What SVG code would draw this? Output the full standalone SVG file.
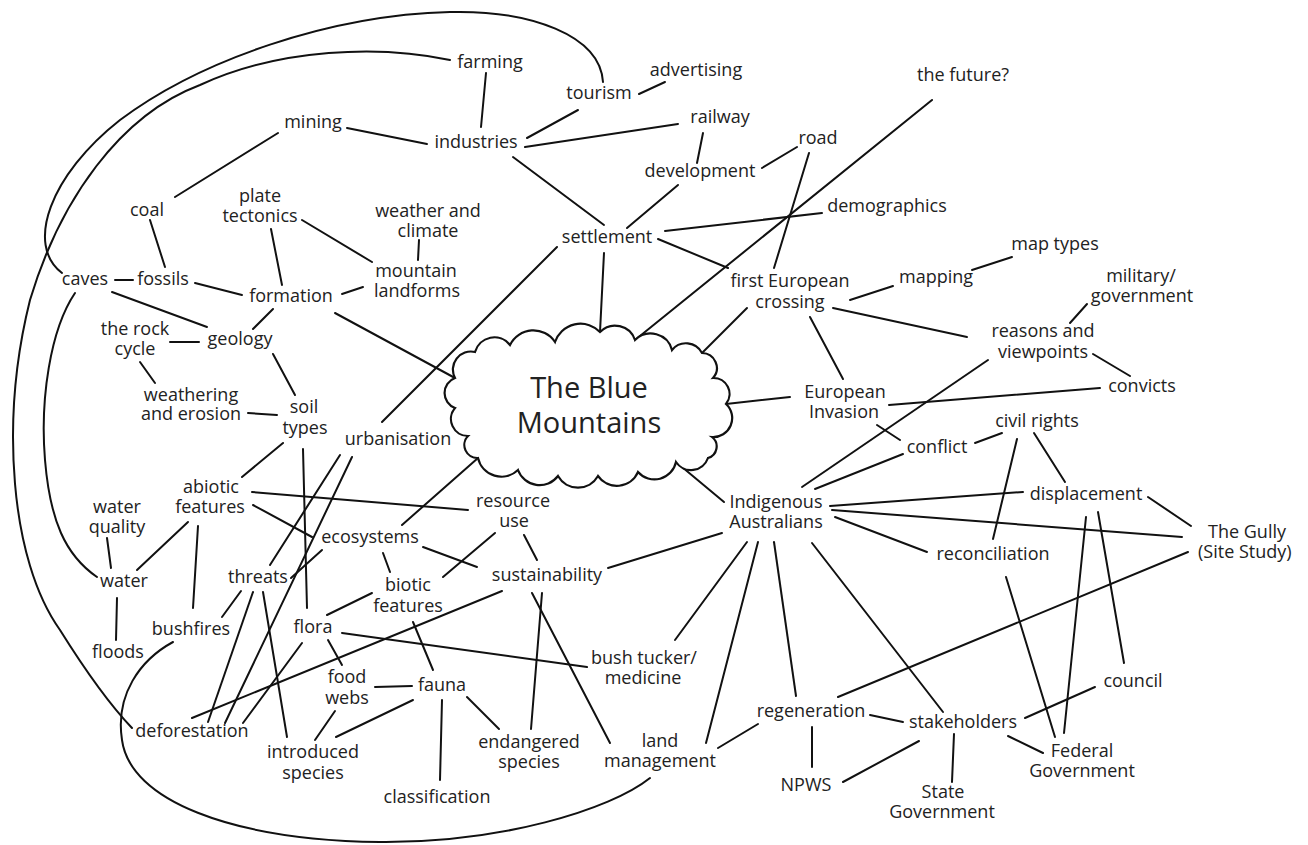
<svg xmlns="http://www.w3.org/2000/svg" width="1308" height="845" viewBox="0 0 1308 845">
<style>
.t{font-family:"Open Sans","Noto Sans",sans-serif;font-size:18px;fill:#222;text-anchor:middle}
.s{text-anchor:start}
.big{font-size:29px}
.c line,.c path{stroke:#111;stroke-width:2;fill:none;stroke-linecap:round}
.cloud{fill:#fff;stroke:#111;stroke-width:2.2}
</style>
<rect width="1308" height="845" fill="#fff"/>
<g id="connectors" class="c">
<path d="M603,82 C600,35 530,10 450,12 C330,15 200,60 120,120 C50,175 25,245 62,273"/>
<path d="M450,60 C380,45 280,48 200,85 C120,115 60,200 30,300 C0,420 10,560 60,630 C85,670 110,705 132,728"/>
<path d="M75,293 C50,330 40,400 45,460 C50,520 65,555 97,577"/>
<path d="M173,642 C140,660 115,695 122,740 C130,800 230,840 380,842 C500,843 610,810 650,778"/>
<line x1="486" y1="73" x2="481" y2="127"/>
<line x1="639" y1="94" x2="665" y2="82"/>
<line x1="578" y1="110" x2="527" y2="138"/>
<line x1="347" y1="128" x2="427" y2="144"/>
<line x1="525" y1="147" x2="678" y2="124"/>
<line x1="513" y1="157" x2="604" y2="225"/>
<line x1="278" y1="133" x2="175" y2="197"/>
<line x1="703" y1="133" x2="697" y2="163"/>
<line x1="762" y1="168" x2="797" y2="147"/>
<line x1="678" y1="185" x2="627" y2="228"/>
<line x1="809" y1="153" x2="774" y2="268"/>
<line x1="932" y1="100" x2="635" y2="340"/>
<line x1="665" y1="231" x2="822" y2="213"/>
<line x1="658" y1="239" x2="728" y2="268"/>
<line x1="604" y1="253" x2="600" y2="332"/>
<line x1="557" y1="247" x2="382" y2="422"/>
<line x1="150" y1="220" x2="165" y2="267"/>
<line x1="115" y1="280" x2="133" y2="280"/>
<line x1="302" y1="220" x2="372" y2="262"/>
<line x1="271" y1="229" x2="282" y2="285"/>
<line x1="419" y1="240" x2="418" y2="260"/>
<line x1="195" y1="283" x2="242" y2="295"/>
<line x1="342" y1="294" x2="363" y2="287"/>
<line x1="273" y1="309" x2="253" y2="329"/>
<line x1="335" y1="313" x2="455" y2="378"/>
<line x1="112" y1="292" x2="207" y2="327"/>
<line x1="170" y1="342" x2="199" y2="342"/>
<line x1="140" y1="362" x2="155" y2="383"/>
<line x1="273" y1="354" x2="295" y2="395"/>
<line x1="248" y1="413" x2="277" y2="415"/>
<line x1="283" y1="443" x2="242" y2="477"/>
<line x1="303" y1="449" x2="307" y2="608"/>
<line x1="850" y1="300" x2="893" y2="286"/>
<line x1="972" y1="270" x2="1012" y2="257"/>
<line x1="747" y1="308" x2="702" y2="353"/>
<line x1="833" y1="308" x2="967" y2="337"/>
<line x1="810" y1="317" x2="843" y2="379"/>
<line x1="1070" y1="323" x2="1087" y2="304"/>
<line x1="1093" y1="354" x2="1130" y2="376"/>
<line x1="726" y1="404" x2="790" y2="397"/>
<line x1="889" y1="405" x2="1100" y2="388"/>
<line x1="877" y1="425" x2="900" y2="440"/>
<line x1="975" y1="443" x2="1002" y2="433"/>
<line x1="802" y1="487" x2="988" y2="360"/>
<line x1="815" y1="489" x2="903" y2="454"/>
<line x1="676" y1="462" x2="724" y2="502"/>
<line x1="830" y1="506" x2="1023" y2="492"/>
<line x1="832" y1="510" x2="1182" y2="537"/>
<line x1="835" y1="517" x2="927" y2="552"/>
<line x1="722" y1="533" x2="608" y2="568"/>
<line x1="747" y1="542" x2="675" y2="640"/>
<line x1="758" y1="542" x2="706" y2="743"/>
<line x1="774" y1="542" x2="796" y2="696"/>
<line x1="812" y1="543" x2="943" y2="712"/>
<line x1="1034" y1="433" x2="1065" y2="482"/>
<line x1="1017" y1="439" x2="993" y2="539"/>
<line x1="1148" y1="497" x2="1191" y2="526"/>
<line x1="1188" y1="552" x2="838" y2="697"/>
<line x1="1086" y1="517" x2="1064" y2="733"/>
<line x1="1098" y1="512" x2="1124" y2="663"/>
<line x1="1006" y1="577" x2="1055" y2="737"/>
<line x1="1025" y1="718" x2="1095" y2="687"/>
<line x1="1008" y1="736" x2="1043" y2="753"/>
<line x1="718" y1="748" x2="758" y2="724"/>
<line x1="870" y1="715" x2="903" y2="722"/>
<line x1="812" y1="727" x2="812" y2="767"/>
<line x1="843" y1="782" x2="919" y2="741"/>
<line x1="954" y1="734" x2="952" y2="782"/>
<line x1="383" y1="553" x2="390" y2="572"/>
<line x1="443" y1="577" x2="495" y2="533"/>
<line x1="423" y1="547" x2="477" y2="567"/>
<line x1="524" y1="535" x2="537" y2="560"/>
<line x1="372" y1="593" x2="327" y2="615"/>
<line x1="413" y1="622" x2="433" y2="670"/>
<line x1="502" y1="591" x2="192" y2="718"/>
<line x1="342" y1="633" x2="587" y2="667"/>
<line x1="542" y1="593" x2="531" y2="729"/>
<line x1="532" y1="593" x2="610" y2="743"/>
<line x1="328" y1="640" x2="342" y2="665"/>
<line x1="375" y1="687" x2="412" y2="686"/>
<line x1="413" y1="700" x2="336" y2="737"/>
<line x1="442" y1="700" x2="440" y2="780"/>
<line x1="467" y1="697" x2="499" y2="729"/>
<line x1="335" y1="711" x2="315" y2="740"/>
<line x1="117" y1="598" x2="116" y2="640"/>
<line x1="222" y1="617" x2="241" y2="591"/>
<line x1="198" y1="526" x2="193" y2="608"/>
<line x1="253" y1="592" x2="208" y2="722"/>
<line x1="263" y1="592" x2="287" y2="737"/>
<line x1="340" y1="455" x2="270" y2="565"/>
<line x1="352" y1="457" x2="225" y2="723"/>
<line x1="302" y1="643" x2="243" y2="723"/>
<line x1="107" y1="538" x2="111" y2="568"/>
<line x1="188" y1="522" x2="137" y2="570"/>
<line x1="252" y1="492" x2="468" y2="510"/>
<line x1="253" y1="505" x2="312" y2="537"/>
<line x1="322" y1="550" x2="291" y2="578"/>
<line x1="478" y1="458" x2="402" y2="525"/>
</g>
<g id="n-blue-mountains">
<path class="cloud" d="M455,378 A18 18 0 0 1 475,352 A20 20 0 0 1 510,345 A26 26 0 0 1 555,342 A27 27 0 0 1 600,332 A21 21 0 0 1 635,340 A22 22 0 0 1 672,350 A18 18 0 0 1 702,353 A15 15 0 0 1 713,378 A16 16 0 0 1 726,404 A19 19 0 0 1 712,437 A12 12 0 0 1 708,458 A18 18 0 0 1 676,462 A22 22 0 0 1 638,472 A23 23 0 0 1 598,476 A23 23 0 0 1 558,476 A23 23 0 0 1 518,470 A24 24 0 0 1 478,458 A13 13 0 0 1 468,436 A17 17 0 0 1 455,408 A16 16 0 0 1 455,378 Z"/>
<text class="t big" x="589" y="398">The Blue<tspan x="589" dy="35">Mountains</tspan></text>
</g>
<g id="n-farming"><text class="t" x="490" y="68">farming</text></g>
<g id="n-tourism"><text class="t" x="599" y="99">tourism</text></g>
<g id="n-advertising"><text class="t" x="696" y="76">advertising</text></g>
<g id="n-mining"><text class="t" x="313" y="128">mining</text></g>
<g id="n-industries"><text class="t" x="476" y="148">industries</text></g>
<g id="n-railway"><text class="t" x="720" y="123">railway</text></g>
<g id="n-road"><text class="t" x="818" y="144">road</text></g>
<g id="n-development"><text class="t" x="700" y="177">development</text></g>
<g id="n-future"><text class="t" x="963" y="81">the future?</text></g>
<g id="n-coal"><text class="t" x="147" y="216">coal</text></g>
<g id="n-plate-tectonics"><text class="t" x="260" y="202">plate<tspan x="260" dy="20">tectonics</tspan></text></g>
<g id="n-weather"><text class="t" x="428" y="217">weather and<tspan x="428" dy="20">climate</tspan></text></g>
<g id="n-demographics"><text class="t" x="887" y="212">demographics</text></g>
<g id="n-settlement"><text class="t" x="607" y="243">settlement</text></g>
<g id="n-caves"><text class="t" x="85" y="285">caves</text></g>
<g id="n-fossils"><text class="t" x="163" y="285">fossils</text></g>
<g id="n-mountain-landforms"><text class="t" x="416" y="277">mountain<tspan x="417" dy="20">landforms</tspan></text></g>
<g id="n-formation"><text class="t" x="291" y="302">formation</text></g>
<g id="n-first-european"><text class="t" x="790" y="287">first European<tspan x="790" dy="21">crossing</tspan></text></g>
<g id="n-mapping"><text class="t" x="936" y="283">mapping</text></g>
<g id="n-map-types"><text class="t" x="1055" y="250">map types</text></g>
<g id="n-military"><text class="t" x="1141" y="282">military/<tspan x="1142" dy="20">government</tspan></text></g>
<g id="n-rock-cycle"><text class="t" x="135" y="335">the rock<tspan x="135" dy="20">cycle</tspan></text></g>
<g id="n-geology"><text class="t" x="240" y="345">geology</text></g>
<g id="n-reasons"><text class="t" x="1043" y="337">reasons and<tspan x="1043" dy="21">viewpoints</tspan></text></g>
<g id="n-weathering"><text class="t" x="191" y="401">weathering<tspan x="191" dy="19">and erosion</tspan></text></g>
<g id="n-soil"><text class="t" x="304" y="413">soil<tspan x="305" dy="21">types</tspan></text></g>
<g id="n-european-invasion"><text class="t" x="845" y="398">European<tspan x="844" dy="20">Invasion</tspan></text></g>
<g id="n-convicts"><text class="t" x="1142" y="392">convicts</text></g>
<g id="n-urbanisation"><text class="t" x="398" y="445">urbanisation</text></g>
<g id="n-civil-rights"><text class="t" x="1037" y="427">civil rights</text></g>
<g id="n-conflict"><text class="t" x="937" y="453">conflict</text></g>
<g id="n-abiotic"><text class="t" x="211" y="493">abiotic<tspan x="210" dy="20">features</tspan></text></g>
<g id="n-resource-use"><text class="t" x="513" y="507">resource<tspan x="514" dy="20">use</tspan></text></g>
<g id="n-displacement"><text class="t" x="1086" y="500">displacement</text></g>
<g id="n-indigenous"><text class="t" x="776" y="508">Indigenous<tspan x="776" dy="20">Australians</tspan></text></g>
<g id="n-water-quality"><text class="t" x="117" y="513">water<tspan x="117" dy="20">quality</tspan></text></g>
<g id="n-ecosystems"><text class="t" x="370" y="543">ecosystems</text></g>
<g id="n-gully"><text class="t" x="1247" y="538">The Gully<tspan class="s" x="1198" dy="20">(Site Study)</tspan></text></g>
<g id="n-reconciliation"><text class="t" x="993" y="560">reconciliation</text></g>
<g id="n-water"><text class="t" x="124" y="587">water</text></g>
<g id="n-threats"><text class="t" x="258" y="583">threats</text></g>
<g id="n-sustainability"><text class="t" x="547" y="581">sustainability</text></g>
<g id="n-biotic"><text class="t" x="408" y="591">biotic<tspan x="408" dy="21">features</tspan></text></g>
<g id="n-bushfires"><text class="t" x="191" y="635">bushfires</text></g>
<g id="n-flora"><text class="t" x="313" y="633">flora</text></g>
<g id="n-floods"><text class="t" x="118" y="658">floods</text></g>
<g id="n-bush-tucker"><text class="t" x="644" y="664">bush tucker/<tspan x="643" dy="20">medicine</tspan></text></g>
<g id="n-food-webs"><text class="t" x="347" y="683">food<tspan x="347" dy="21">webs</tspan></text></g>
<g id="n-fauna"><text class="t" x="442" y="691">fauna</text></g>
<g id="n-council"><text class="t" x="1133" y="687">council</text></g>
<g id="n-deforestation"><text class="t" x="192" y="737">deforestation</text></g>
<g id="n-regeneration"><text class="t" x="811" y="717">regeneration</text></g>
<g id="n-stakeholders"><text class="t" x="963" y="728">stakeholders</text></g>
<g id="n-land-management"><text class="t" x="660" y="747">land<tspan x="660" dy="20">management</tspan></text></g>
<g id="n-introduced"><text class="t" x="313" y="758">introduced<tspan x="313" dy="21">species</tspan></text></g>
<g id="n-endangered"><text class="t" x="529" y="748">endangered<tspan x="529" dy="20">species</tspan></text></g>
<g id="n-federal"><text class="t" x="1082" y="757">Federal<tspan x="1082" dy="20">Government</tspan></text></g>
<g id="n-npws"><text class="t" x="806" y="791">NPWS</text></g>
<g id="n-classification"><text class="t" x="437" y="803">classification</text></g>
<g id="n-state"><text class="t" x="943" y="798">State<tspan x="942" dy="20">Government</tspan></text></g>
</svg>
